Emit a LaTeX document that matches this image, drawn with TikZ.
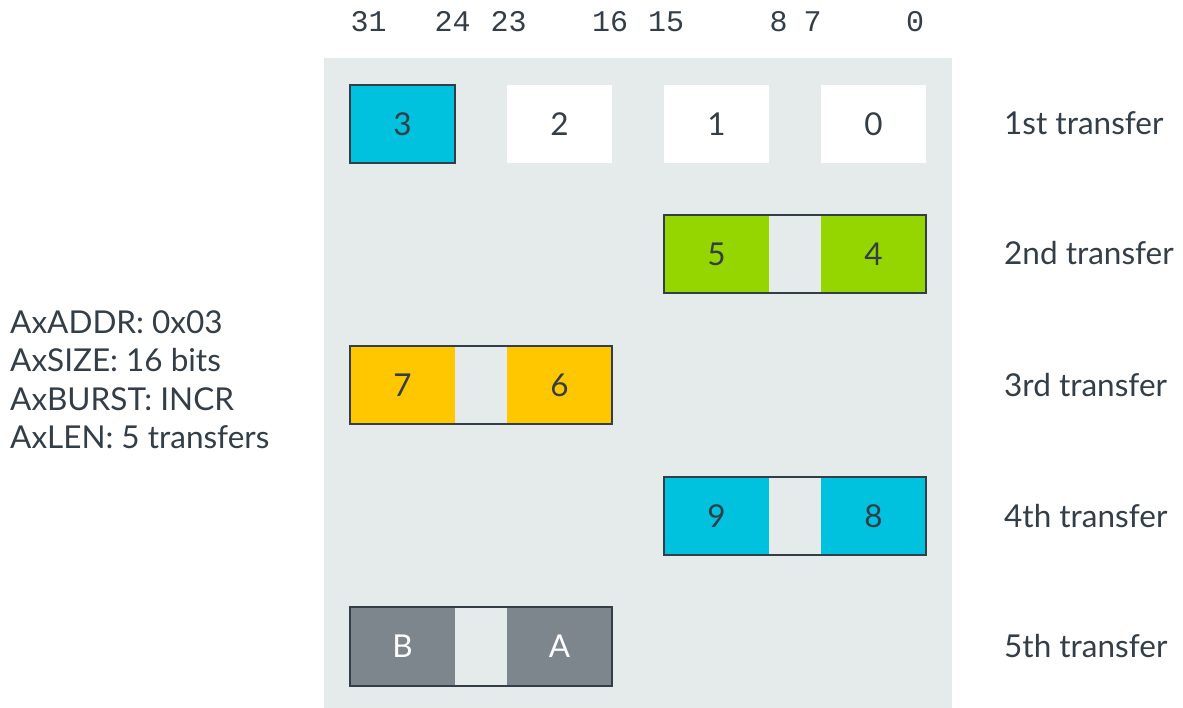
\documentclass[tikz,border=0pt]{standalone}
\usepackage{fontspec}
\setmainfont{Lato}
\newfontfamily\monofont{Liberation Mono}
\definecolor{ink}{HTML}{333E48}
\definecolor{panel}{HTML}{E5EBEB}
\definecolor{cyanc}{HTML}{00C1DE}
\definecolor{greenc}{HTML}{95D600}
\definecolor{yellowc}{HTML}{FFC700}
\definecolor{grayc}{HTML}{7D868C}
\begin{document}
\begin{tikzpicture}[x=1pt,y=-1pt,
  cell/.style={minimum width=105pt,minimum height=78pt,inner sep=0pt,text=ink,font=\fontsize{31.5}{38}\selectfont},
  frame/.style={draw=ink,line width=2pt},
  bit/.style={anchor=base,font=\monofont\fontsize{30}{36}\selectfont,text=ink,inner sep=0pt},
  lbl/.style={anchor=base west,font=\fontsize{31.5}{38}\selectfont,text=ink,inner sep=0pt}]
\useasboundingbox[fill=white] (0,0) rectangle (1183,708);
\fill[panel] (324,58) rectangle (952,708);
% bit numbers
\node[bit] (b31) at (368.5,32) {31};
\node[bit] (b24) at (452.5,32) {24};
\node[bit] (b23) at (508.5,32) {23};
\node[bit] (b16) at (610,32) {16};
\node[bit] (b15) at (666,32) {15};
\node[bit] (b8) at (778.5,32) {8};
\node[bit] (b7) at (812.5,32) {7};
\node[bit] (b0) at (915,32) {0};
% row 1
\node[cell,fill=cyanc,draw=ink,line width=2pt] (c3) at (402.5,124) {3};
\node[cell,fill=white] (c2) at (559.5,124) {2};
\node[cell,fill=white] (c1) at (716.5,124) {1};
\node[cell,fill=white] (c0) at (873.5,124) {0};
% row 2
\node[cell,fill=greenc] (c5) at (716.5,254) {5};
\node[cell,fill=greenc] (c4) at (873.5,254) {4};
\draw[frame] (c5.north west) rectangle (c4.south east);
% row 3
\node[cell,fill=yellowc] (c7) at (402.5,385) {7};
\node[cell,fill=yellowc] (c6) at (559.5,385) {6};
\draw[frame] (c7.north west) rectangle (c6.south east);
% row 4
\node[cell,fill=cyanc] (c9) at (716.5,516) {9};
\node[cell,fill=cyanc] (c8) at (873.5,516) {8};
\draw[frame] (c9.north west) rectangle (c8.south east);
% row 5
\node[cell,fill=grayc,text=white] (cB) at (402.5,646.5) {B};
\node[cell,fill=grayc,text=white] (cA) at (559.5,646.5) {A};
\draw[frame] (cB.north west) rectangle (cA.south east);
% transfer labels
\node[lbl] (t1) at (1004,135) {1st transfer};
\node[lbl] (t2) at (1004,265) {2nd transfer};
\node[lbl] (t3) at (1004,396) {3rd transfer};
\node[lbl] (t4) at (1004,527) {4th transfer};
\node[lbl] (t5) at (1004,657) {5th transfer};
% left description
\node[lbl] (l1) at (10,334) {AxADDR: 0x03};
\node[lbl] (l2) at (10,372) {AxSIZE: 16 bits};
\node[lbl] (l3) at (10,410) {AxBURST: INCR};
\node[lbl] (l4) at (10,448) {AxLEN: 5 transfers};
\end{tikzpicture}
\end{document}
